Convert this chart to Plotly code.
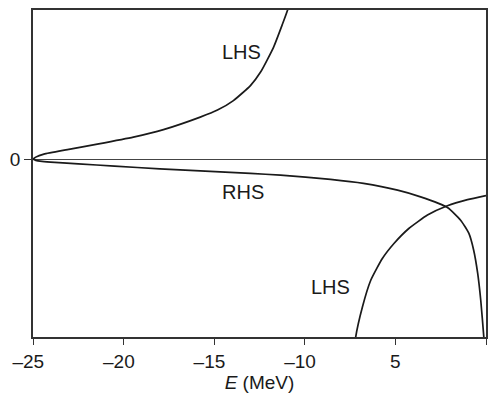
import plotly.graph_objects as go

# Energy (MeV) and curve values (arbitrary units)
lhs_upper_E = [-25.0, -24.85, -24.4, -23.1, -21.45, -19.46, -17.8, -15.77,
               -14.82, -13.94, -13.0, -12.44, -11.72, -11.23, -10.95, -10.8]
lhs_upper_y = [0.0, 0.2, 0.5, 0.95, 1.5, 2.2, 2.95, 4.2,
               4.9, 5.85, 7.35, 8.7, 11.2, 13.5, 14.9, 16.0]

rhs_E = [-25.0, -24.85, -24.5, -23.8, -22.5, -20.5, -18.0, -15.77, -13.0, -11.34, -8.58,
         -6.76, -4.88, -3.61, -2.11, -1.40, -0.95, -0.68, -0.46, -0.29, -0.12, -0.06]
rhs_y = [0.0, -0.12, -0.22, -0.33, -0.47, -0.7, -0.97, -1.18, -1.43, -1.6, -2.03,
         -2.43, -3.1, -3.77, -4.85, -6.1, -7.4, -9.1, -11.4, -14.1, -17.8, -19.5]

lhs_lower_E = [-7.25, -7.19, -6.82, -6.36, -5.72, -5.08, -4.26, -3.23, -2.13, -1.02, 0.0]
lhs_lower_y = [-19.0, -17.77, -14.77, -12.1, -9.93, -8.43, -6.93, -5.59, -4.66, -4.05, -3.64]

x_tick_vals = [-25, -20, -15, -10, -5, 0]
x_tick_text = ["\u201325\u2002", "\u201320\u2002", "\u201315\u2002", "\u201310\u2002", "5", "0"]

labels = [("LHS", -13.5, 10.7), ("RHS", -13.4, -3.3), ("LHS", -8.6, -12.8)]

line_style = dict(color="#1a1a1a", width=1.7)
fig = go.Figure()
for xs, ys in [(lhs_upper_E, lhs_upper_y), (rhs_E, rhs_y), (lhs_lower_E, lhs_lower_y)]:
    fig.add_trace(go.Scatter(x=xs, y=ys, mode="lines",
                             line=dict(**line_style, shape="spline", smoothing=0.5),
                             showlegend=False, hoverinfo="skip"))

for text, x, y in labels:
    fig.add_annotation(x=x, y=y, text=text, showarrow=False, xref="x", yref="y",
                       font=dict(family="Liberation Sans, Arial, sans-serif", size=20, color="#1a1a1a"))

fig.update_layout(
    width=491, height=395,
    margin=dict(l=33, r=5, t=10, b=58),
    paper_bgcolor="white", plot_bgcolor="white",
    font=dict(family="Liberation Sans, Arial, sans-serif", size=19, color="#1a1a1a"),
    xaxis=dict(range=[-25, 0], tickvals=x_tick_vals, ticktext=x_tick_text,
               ticks="outside", ticklen=6, tickwidth=1.3, tickcolor="#333",
               showline=True, linecolor="#333", linewidth=1.6, mirror=True,
               showgrid=False, zeroline=False, automargin=False,
               title=dict(text="<i>E</i> (MeV)", standoff=5, font=dict(size=19))),
    yaxis=dict(range=[-17.77, 14.9], tickvals=[0], ticktext=["0"],
               ticks="outside", ticklen=7, tickwidth=1.3, tickcolor="#333",
               showline=True, linecolor="#333", linewidth=1.6, mirror=True,
               showgrid=False, zeroline=True, zerolinecolor="#444", zerolinewidth=1.1,
               automargin=False),
)

fig.write_html("out.html", config={"displayModeBar": False},
               post_script="document.body.style.margin='0';document.body.style.padding='0';")
